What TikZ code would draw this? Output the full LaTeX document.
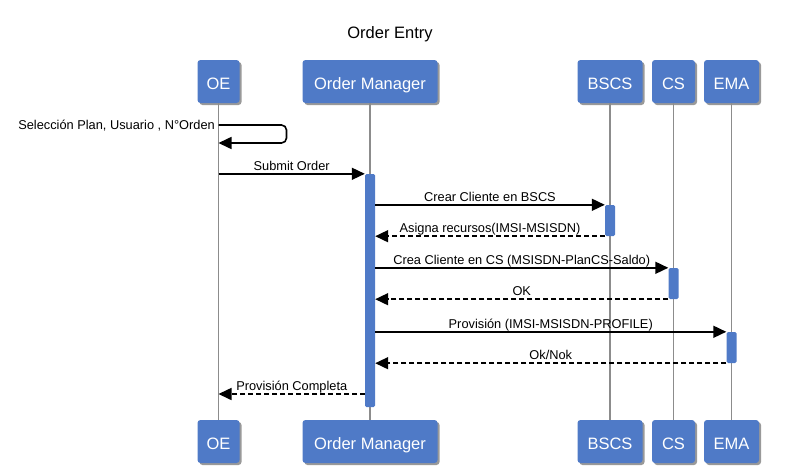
\documentclass[tikz,border=0pt]{standalone}
\usepackage{fontspec}
\setmainfont{Liberation Sans}
\usetikzlibrary{arrows.meta, shadows}
\definecolor{boxblue}{RGB}{79,122,199}
\definecolor{lifegray}{RGB}{140,140,140}

\begin{document}
\begin{tikzpicture}[x=1pt,y=-1pt]
		\tikzstyle{Actor} = [rectangle, rounded corners=3pt, minimum height=43pt, inner sep=0pt, text height=16.5pt, text depth=0pt, text=white, fill=boxblue, font=\fontsize{16.5}{18}\selectfont, drop shadow={shadow xshift=2pt, shadow yshift=-2pt, opacity=0.5, fill=black!80}]
		\tikzstyle{Bar} = [rectangle, rounded corners=1.5pt, minimum width=10pt, inner sep=0pt, fill=boxblue]
		\tikzstyle{life} = [line width=1.5pt, lifegray]
		\tikzstyle{msg} = [line width=1.6pt, black, -{Triangle[length=13pt, width=12pt]}]
		\tikzstyle{reply} = [msg, dash pattern=on 5pt off 3pt]
		\tikzstyle{lbl} = [anchor=base, yshift=3.5pt, inner sep=0pt, font=\fontsize{12.8}{14}\selectfont]
		
		\useasboundingbox (0,0) rectangle (794,466);
		\node (title) at (390,34) {\fontsize{16.5}{18}\selectfont Order Entry};
		
		% participants, top and bottom
		\node (oe1) [Actor, minimum width=42pt] at (218.5,81.5) {OE};
		\node (om1) [Actor, minimum width=135pt] at (370,81.5) {Order Manager};
		\node (bscs1) [Actor, minimum width=65pt] at (610,81.5) {BSCS};
		\node (cs1) [Actor, minimum width=43pt] at (673.5,81.5) {CS};
		\node (ema1) [Actor, minimum width=55pt] at (731.5,81.5) {EMA};
		
		\node (oe2) [Actor, minimum width=42pt] at (218.5,441.5) {OE};
		\node (om2) [Actor, minimum width=135pt] at (370,441.5) {Order Manager};
		\node (bscs2) [Actor, minimum width=65pt] at (610,441.5) {BSCS};
		\node (cs2) [Actor, minimum width=43pt] at (673.5,441.5) {CS};
		\node (ema2) [Actor, minimum width=55pt] at (731.5,441.5) {EMA};
		
		% lifelines
		\draw [life] (oe1.south) -- (oe2.north);
		\draw [life] (om1.south) -- (om2.north);
		\draw [life] (bscs1.south) -- (bscs2.north);
		\draw [life] (cs1.south) -- (cs2.north);
		\draw [life] (ema1.south) -- (ema2.north);
		
		% activations
		\node (omA) [Bar, minimum height=233pt] at (370,290.5) {};
		\node (bscsA) [Bar, minimum height=31pt] at (610,220.5) {};
		\node (csA) [Bar, minimum height=31pt] at (673.5,283.5) {};
		\node (emaA) [Bar, minimum height=31pt] at (731.5,347.5) {};
		
		% messages
		\coordinate (s1) at (218.5,125);
		\coordinate (s2) at (218.5,143);
		\node (selLbl) [anchor=base east, inner sep=0pt, font=\fontsize{12.8}{14}\selectfont] at (215,129.8) {Selección Plan, Usuario , N°Orden};
		\draw [msg, rounded corners=5pt] (s1) -- ++(68,0) -- ++(0,18) -- (s2);
		
		\draw [msg] (oe1.south |- omA.north) -- node[lbl] {Submit Order} (omA.north west);
		\draw [msg] (omA.east |- bscsA.north) -- node[lbl] {Crear Cliente en BSCS} (bscsA.north west);
		\draw [reply] (bscsA.south west) -- node[lbl] {Asigna recursos(IMSI-MSISDN)} (omA.east |- bscsA.south);
		\draw [msg] (omA.east |- csA.north) -- node[lbl] {Crea Cliente en CS (MSISDN-PlanCS-Saldo)} (csA.north west);
		\draw [reply] (csA.south west) -- node[lbl] {OK} (omA.east |- csA.south);
		\draw [msg] (omA.east |- emaA.north) -- node[lbl] {Provisión (IMSI-MSISDN-PROFILE)} (emaA.north west);
		\draw [reply] (emaA.south west) -- node[lbl] {Ok/Nok} (omA.east |- emaA.south);
		
		\coordinate (pc) at (365,394);
		\draw [reply] (pc) -- node[lbl] {Provisión Completa} (oe1.south |- pc);
\end{tikzpicture}
\end{document}
